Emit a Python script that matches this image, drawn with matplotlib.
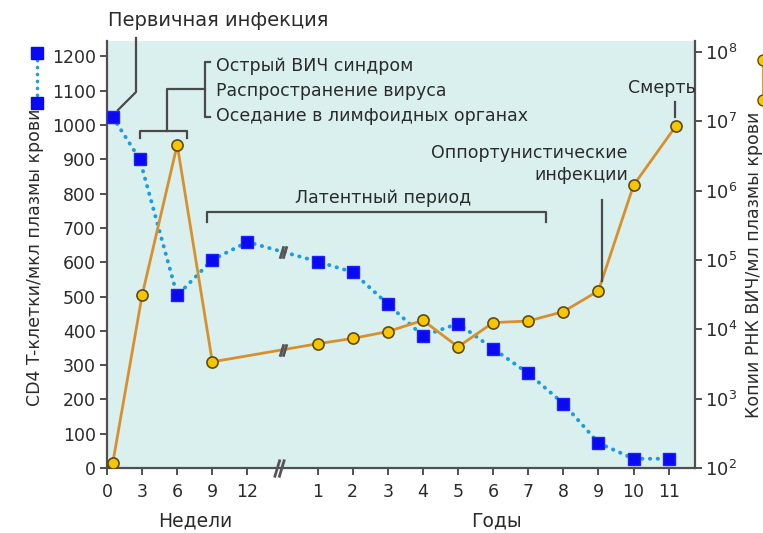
import numpy as np
import matplotlib
matplotlib.use("Agg")
import matplotlib.pyplot as plt
from matplotlib.path import Path
from matplotlib.lines import Line2D

plt.rcParams['font.family'] = ['DejaVu Sans']

# --- данные ---
week_ticks = [0, 3, 6, 9, 12]
year_ticks = [1, 2, 3, 4, 5, 6, 7, 8, 9, 10, 11]

# CD4 T-клетки (левая ось)
cd4_weeks = [0.5, 2.8, 6, 9, 12]
cd4_weeks_val = [1023, 900, 503, 607, 659]
cd4_years = [1, 2, 3, 4, 5, 6, 7, 8, 9, 10, 11]
cd4_years_val = [602, 571, 478, 385, 421, 348, 276, 188, 73, 27, 27]

# РНК ВИЧ (правая ось, log)
rna_weeks = [0.5, 3, 6, 9]
rna_weeks_val = [1.2e2, 3.1e4, 4.6e6, 3.4e3]
rna_years = [1, 2, 3, 4, 5, 6, 7, 8, 9, 10, 11.2]
rna_years_val = [6.2e3, 7.4e3, 9.3e3, 1.35e4, 5.6e3, 1.25e4, 1.32e4, 1.8e4, 3.6e4, 1.2e6, 8.5e6]


def wpos(w):
    return np.asarray(w, dtype=float) / 3.0


def ypos(y):
    return np.asarray(y, dtype=float) + 5.0


BREAK = 5.0
W, H = 763, 533
TXT = '#2b2b2b'
LN = '#4a4a4a'
BLUE_LN = '#1f9ddb'
BLUE_MK = '#0a0af2'
ORANGE = '#d8902c'
YELLOW = '#f7c600'
DOTS = (0, (0.1, 1.9))

fig = plt.figure(figsize=(W / 100, H / 100), dpi=100)
ax = fig.add_axes([107 / W, 1 - 468 / H, (695 - 107) / W, (468 - 41) / H])
ax.set_facecolor('#d9f0ef')
ax2 = ax.twinx()

# break marker "//"
brk = Path([(-0.55, -1), (0.05, 1), (-0.05, -1), (0.55, 1)],
           [Path.MOVETO, Path.LINETO, Path.MOVETO, Path.LINETO])

# CD4 series
cx = np.concatenate([wpos(cd4_weeks), ypos(cd4_years)])
cy = np.concatenate([cd4_weeks_val, cd4_years_val])
ax.plot(cx, cy, color=BLUE_LN, lw=2.8, linestyle=DOTS,
        dash_capstyle='round', zorder=3)
ax.plot(cx, cy, 's', color=BLUE_MK, ms=9, mec='#2020ff', zorder=4)
by = np.interp(BREAK, cx, cy)
ax.plot([BREAK], [by], marker=brk, ms=9, mec='#555555', mew=2,
        linestyle='none', zorder=5)

# RNA series
rx = np.concatenate([wpos(rna_weeks), ypos(rna_years)])
ry = np.concatenate([rna_weeks_val, rna_years_val])
ax2.plot(rx, ry, color=ORANGE, lw=2, zorder=3)
ax2.plot(rx, ry, 'o', color=YELLOW, mec='#5e4a12', mew=1.2, ms=8, zorder=4)
oy = 10 ** np.interp(BREAK, rx, np.log10(ry))
ax2.plot([BREAK], [oy], marker=brk, ms=9, mec='#555555', mew=2,
         linestyle='none', zorder=5)

# axis break on x axis
ax.plot([BREAK - 0.1], [0], marker=brk, ms=13, mec='#555555', mew=2,
        linestyle='none', clip_on=False, zorder=6,
        transform=ax.get_xaxis_transform())

ax.set_xlim(0, 16.75)
ax.set_ylim(0, 1245)
ax2.set_yscale('log')
ax2.set_ylim(1e2, 10 ** 8.16)

ax.set_xticks(list(wpos(week_ticks)) + list(ypos(year_ticks)))
ax.set_xticklabels([str(t) for t in week_ticks] + [str(t) for t in year_ticks])
ax.set_yticks(np.arange(0, 1201, 100))
ax2.set_yticks([10.0 ** k for k in range(2, 9)])
ax2.set_yticklabels(['$10^{%d}$' % k for k in range(2, 9)])
ax2.minorticks_off()

for a in (ax, ax2):
    a.spines['top'].set_visible(False)
    for s in a.spines.values():
        s.set_color('#505050')
        s.set_linewidth(1.6)
    a.tick_params(colors='#505050', labelcolor=TXT, labelsize=12.5,
                  length=5, width=1.4)
ax.tick_params(axis='x', pad=6)
ax.tick_params(axis='y', pad=3)
ax2.tick_params(axis='y', pad=2, labelsize=13)
ax.spines['right'].set_visible(False)
ax2.spines['left'].set_visible(False)
ax2.spines['bottom'].set_visible(False)

# x-axis group labels
xt = ax.get_xaxis_transform()
ax.text(2.5, -0.125, 'Недели', transform=xt, ha='center', va='center',
        fontsize=13.5, color=TXT)
ax.text(11.1, -0.125, 'Годы', transform=xt, ha='center', va='center',
        fontsize=13.5, color=TXT)

# y labels
fig.text(35 / W, 1 - 257 / H, 'CD4 T-клетки/мкл плазмы крови', rotation=90,
         ha='center', va='center', fontsize=12.5, color=TXT)
fig.text(754 / W, 1 - 265 / H, 'Копии РНК ВИЧ/мл плазмы крови', rotation=90,
         ha='center', va='center', fontsize=12.5, color=TXT)


def px(x, y):
    return x / W, 1 - y / H


def fline(xs, ys, **kw):
    fx = [x / W for x in xs]
    fy = [1 - y / H for y in ys]
    fig.add_artist(Line2D(fx, fy, color=LN, lw=1.6, **kw))


# legend keys
fig.add_artist(Line2D([37 / W, 37 / W], [1 - 53 / H, 1 - 103 / H], color=BLUE_LN,
                      lw=2.5, linestyle=DOTS, dash_capstyle='round'))
fig.add_artist(Line2D([37 / W, 37 / W], [1 - 53 / H, 1 - 103 / H], color=BLUE_MK,
                      marker='s', ms=9, linestyle='none'))
fig.add_artist(Line2D([763 / W, 763 / W], [1 - 60 / H, 1 - 100 / H], color=ORANGE,
                      lw=2, marker='o', mfc=YELLOW, mec='#5e4a12', ms=8))

# annotations
fs = 12.5
fig.text(*px(108, 20), 'Первичная инфекция', ha='left', va='center',
         fontsize=14, color=TXT)
fline([136, 136, 118], [38, 92, 110])

fline([210, 205, 205, 210], [62, 62, 117, 117])
fline([205, 167, 167], [89, 89, 131])
fline([140, 140, 187, 187], [138, 131, 131, 138])
fig.text(*px(216, 66), 'Острый ВИЧ синдром', ha='left', va='center',
         fontsize=fs, color=TXT)
fig.text(*px(216, 91), 'Распространение вируса', ha='left', va='center',
         fontsize=fs, color=TXT)
fig.text(*px(216, 116), 'Оседание в лимфоидных органах', ha='left', va='center',
         fontsize=fs, color=TXT)

fline([207, 207, 546, 546], [222, 212, 212, 222])
fig.text(*px(383, 198), 'Латентный период', ha='center', va='center',
         fontsize=fs, color=TXT)

fig.text(*px(628, 153), 'Оппортунистические', ha='right', va='center',
         fontsize=fs, color=TXT)
fig.text(*px(628, 175), 'инфекции', ha='right', va='center',
         fontsize=fs, color=TXT)
fline([602, 602], [200, 281])

fig.text(*px(662, 88), 'Смерть', ha='center', va='center',
         fontsize=fs, color=TXT)
fline([675, 675], [102, 117])

fig.savefig('out.png', dpi=100)
